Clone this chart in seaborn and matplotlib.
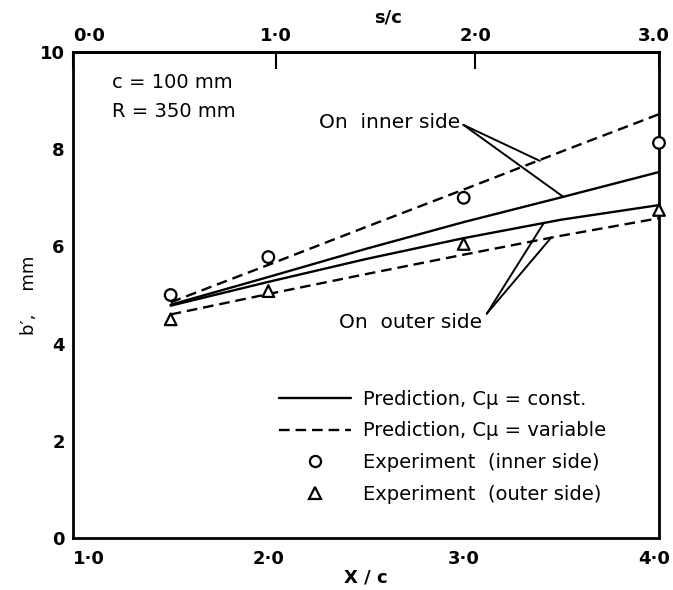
import matplotlib
matplotlib.use('Agg')
import matplotlib.pyplot as plt
import matplotlib.transforms as mtransforms
from matplotlib.lines import Line2D
import pandas as pd
import seaborn as sns


# Chart values
x_pred = [1.5, 2.0, 2.5, 3.0, 3.5, 4.0]
const_inner = [4.80, 5.37, 5.95, 6.50, 7.01, 7.53]
const_outer = [4.78, 5.27, 5.74, 6.17, 6.55, 6.85]
variable_inner = [4.85, 5.62, 6.40, 7.17, 7.95, 8.72]
variable_outer = [4.60, 5.02, 5.43, 5.83, 6.22, 6.58]

x_exp = [1.5, 2.0, 3.0, 4.0]
exp_inner = [5.00, 5.78, 7.00, 8.13]
exp_outer = [4.50, 5.08, 6.05, 6.75]

x_ticks = [1.0, 2.0, 3.0, 4.0]
x_ticklabels = ['1·0', '2·0', '3·0', '4·0']
y_ticks = [0, 2, 4, 6, 8, 10]
y_ticklabels = ['0', '2', '4', '6', '8', '10']
# s/c scale on top, placed at the matching X/c positions
sc_ticks_at_x = [1.0, 2.04, 3.06, 4.0]
sc_ticklabels = ['0·0', '1·0', '2·0', '3.0']

legend_labels = [
    'Prediction, Cμ = const.',
    'Prediction, Cμ = variable',
    'Experiment  (inner side)',
    'Experiment  (outer side)',
]

# Long-form tables for seaborn
lines = pd.concat([
    pd.DataFrame({'X': x_pred, 'b': const_inner, 'model': 'const', 'side': 'inner'}),
    pd.DataFrame({'X': x_pred, 'b': const_outer, 'model': 'const', 'side': 'outer'}),
    pd.DataFrame({'X': x_pred, 'b': variable_inner, 'model': 'variable', 'side': 'inner'}),
    pd.DataFrame({'X': x_pred, 'b': variable_outer, 'model': 'variable', 'side': 'outer'}),
], ignore_index=True)

points = pd.concat([
    pd.DataFrame({'X': x_exp, 'b': exp_inner, 'side': 'inner'}),
    pd.DataFrame({'X': x_exp, 'b': exp_outer, 'side': 'outer'}),
], ignore_index=True)


sns.set_style('white')
plt.rcParams['font.family'] = ['DejaVu Sans']
plt.rcParams['axes.linewidth'] = 2.0
for key in ('text.color', 'axes.labelcolor', 'xtick.color', 'ytick.color', 'axes.edgecolor'):
    plt.rcParams[key] = 'black'

fig = plt.figure(figsize=(6.73, 5.90), dpi=100)
ax = fig.add_axes([73 / 673, 1 - 538 / 590, 586 / 673, 486 / 590])

dash = (4.5, 2.5)
sns.lineplot(
    data=lines, x='X', y='b', style='model', units='side', estimator=None,
    dashes={'const': '', 'variable': dash}, color='black', lw=1.7,
    legend=False, ax=ax, zorder=3,
)

sns.scatterplot(
    data=points, x='X', y='b', style='side', markers={'inner': 'o', 'outer': '^'},
    s=70, color='black', legend=False, ax=ax, zorder=4, clip_on=False,
)
for coll in ax.collections:
    coll.set_facecolor('white')
    coll.set_edgecolor('black')
    coll.set_linewidth(1.6)

ax.set_xlim(1.0, 4.0)
ax.set_ylim(0, 10)
ax.set_xticks(x_ticks, x_ticklabels)
ax.set_yticks(y_ticks, y_ticklabels)

ax.tick_params(axis='x', direction='in', length=11, width=1.5, pad=9,
               labelsize=13, top=False)
ax.tick_params(axis='y', direction='in', length=11, width=1.5, pad=6,
               labelsize=13, right=False)
for lab in ax.get_xticklabels() + ax.get_yticklabels():
    lab.set_fontweight('bold')

# first label starts at the corner, last one ends just past it
shift_right = mtransforms.ScaledTranslation(11 / 100, 0, fig.dpi_scale_trans)
xlabs = ax.get_xticklabels()
xlabs[0].set_ha('left')
xlabs[-1].set_ha('right')
xlabs[-1].set_transform(xlabs[-1].get_transform() + shift_right)

for side in ax.spines.values():
    side.set_visible(True)
    side.set_color('black')
    side.set_linewidth(2.0)

ax.set_xlabel('X / c', fontsize=13, fontweight='bold')
ax.xaxis.set_label_coords(0.5, -0.062)
ax.set_ylabel('b\u2032,    mm', fontsize=13)
ax.yaxis.set_label_coords(-0.06, 0.5)

# s/c scale on top
sec = ax.secondary_xaxis('top')
sec.set_xticks(sc_ticks_at_x, sc_ticklabels)
sec.tick_params(direction='in', length=12, width=1.5, pad=5, labelsize=13)
slabs = sec.get_xticklabels()
for lab in slabs:
    lab.set_fontweight('bold')
slabs[0].set_ha('left')
slabs[-1].set_ha('right')
slabs[-1].set_transform(slabs[-1].get_transform() + shift_right)
sec.spines['top'].set_linewidth(2.0)
ax.text(0.537, 1.072, 's/c', transform=ax.transAxes, fontsize=13,
        fontweight='bold', ha='center', va='center')

# Parameter notes
ax.text(1.2, 9.38, 'c = 100 mm', fontsize=14, va='center', ha='left')
ax.text(1.2, 8.77, 'R = 350 mm', fontsize=14, va='center', ha='left')

# Leader labels: both leaders start just past the end of the text
leader = dict(arrowstyle='-', lw=1.4, color='black', shrinkA=0, shrinkB=0)
inner_txt = ax.text(2.26, 8.54, 'On  inner side', fontsize=14.5, va='center', ha='left')
outer_txt = ax.text(2.36, 4.44, 'On  outer side', fontsize=14.5, va='center', ha='left')
fig.canvas.draw()
to_data = ax.transData.inverted()

bb = inner_txt.get_window_extent()
start = to_data.transform((bb.x1 + 3, bb.y0 + 0.4 * bb.height))
for target in [(3.39, 7.76), (3.51, 7.02)]:
    ax.annotate('', xy=target, xytext=tuple(start), arrowprops=leader)

bb = outer_txt.get_window_extent()
start = to_data.transform((bb.x1 + 5, bb.y0 + 0.95 * bb.height))
for target in [(3.41, 6.48), (3.45, 6.19)]:
    ax.annotate('', xy=target, xytext=tuple(start), arrowprops=leader)

# Legend
handles = [
    Line2D([], [], color='black', lw=1.7),
    Line2D([], [], color='black', lw=1.7, dashes=dash),
    Line2D([], [], ls='none', marker='o', mfc='white', mec='black', mew=1.6, ms=8),
    Line2D([], [], ls='none', marker='^', mfc='white', mec='black', mew=1.6, ms=8),
]
ax.legend(handles, legend_labels, loc='upper left', bbox_to_anchor=(0.352, 0.305),
          frameon=False, fontsize=14, handlelength=3.7, handletextpad=0.6,
          labelspacing=0.65, borderpad=0, borderaxespad=0)

fig.savefig('out.png', dpi=100)
